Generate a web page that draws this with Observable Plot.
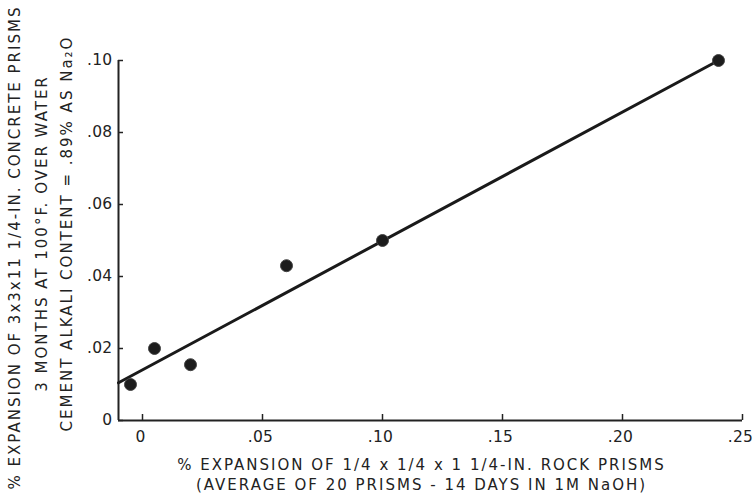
<!DOCTYPE html>
<html>
<head>
<meta charset="utf-8">
<script src="https://cdn.jsdelivr.net/npm/d3@7"></script>
<script src="https://cdn.jsdelivr.net/npm/@observablehq/plot@0.6"></script>
<style>
  html, body { margin: 0; padding: 0; background: #fff; }
  #chart { width: 753px; height: 494px; }
  g[aria-label="text"] text, text[aria-label="axis title"], g[aria-label="axis title"] text { letter-spacing: 2px; }
</style>
</head>
<body>
<div id="chart"></div>
<script>
// Data
const rockExpansion     = [-0.005, 0.005, 0.020, 0.060, 0.100, 0.240];
const concreteExpansion = [0.010, 0.020, 0.0155, 0.043, 0.050, 0.100];
const fitX = [-0.01, 0.24];
const fitY = [0.0105, 0.100];
const xTicks = [0, 0.05, 0.10, 0.15, 0.20, 0.25];
const yTicks = [0, 0.02, 0.04, 0.06, 0.08, 0.10];
const yTitleLines = [
  "% EXPANSION OF 3x3x11 1/4-IN. CONCRETE PRISMS",
  "3 MONTHS AT 100°F. OVER WATER",
  "CEMENT ALKALI CONTENT = .89% AS Na\u2082O"
];
const xTitleLines = [
  "% EXPANSION OF 1/4 x 1/4 x 1 1/4-IN. ROCK PRISMS",
  "(AVERAGE OF 20 PRISMS - 14 DAYS IN 1M NaOH)"
];

const points = rockExpansion.map((x, i) => ({x, y: concreteExpansion[i]}));
const fit = fitX.map((x, i) => ({x, y: fitY[i]}));
const fmt = d => d === 0 ? "0" : d.toFixed(2).replace(/^0/, "");

const font = "DejaVu Sans, Liberation Sans, sans-serif";
const titleStyle = {fontSize: 15, fill: "#222", textAnchor: "middle", lineAnchor: "middle"};

const chart = Plot.plot({
  width: 753,
  height: 494,
  marginLeft: 118,
  marginRight: 11,
  marginTop: 60,
  marginBottom: 74,
  style: {fontFamily: font, fontSize: "15px", color: "#222", background: "#fff", letterSpacing: "0.3px"},
  x: {domain: [-0.01, 0.25]},
  y: {domain: [0, 0.10]},
  marks: [
    Plot.axisX(xTicks, {tickSize: -6, tickPadding: 16, tickFormat: fmt, label: null, stroke: "#222", strokeWidth: 1.5, fontSize: 15.5}),
    Plot.axisY(yTicks, {tickSize: -5, tickPadding: 11, tickFormat: fmt, label: null, stroke: "#222", strokeWidth: 1.5, fontSize: 15.5}),
    Plot.ruleY([0], {stroke: "#222", strokeWidth: 2}),
    Plot.ruleX([-0.01], {stroke: "#222", strokeWidth: 2}),
    Plot.line(fit, {x: "x", y: "y", stroke: "#1a1a1a", strokeWidth: 3}),
    Plot.dot(points, {x: "x", y: "y", r: 6, fill: "#1c1c1c", stroke: "#444", strokeWidth: 1}),
    Plot.text([yTitleLines[0]], {...titleStyle, text: d => d, frameAnchor: "left", rotate: -90, dx: -103, dy: 7}),
    Plot.text([yTitleLines[1]], {...titleStyle, text: d => d, frameAnchor: "left", rotate: -90, dx: -76, dy: -7}),
    Plot.text([yTitleLines[2]], {...titleStyle, text: d => d, frameAnchor: "left", rotate: -90, dx: -51, dy: -7}),
    Plot.text([xTitleLines[0]], {...titleStyle, text: d => d, frameAnchor: "bottom", dx: -9, dy: 45}),
    Plot.text([xTitleLines[1]], {...titleStyle, text: d => d, frameAnchor: "bottom", dx: -9, dy: 65})
  ]
});
// shift the x tick labels slightly left, as in the reference
d3.select(chart).selectAll('g[aria-label="x-axis tick label"]').attr("transform", function() {
  const t = this.getAttribute("transform") || "";
  return t + " translate(-2,0)";
});
document.getElementById("chart").appendChild(chart);
</script>
</body>
</html>
